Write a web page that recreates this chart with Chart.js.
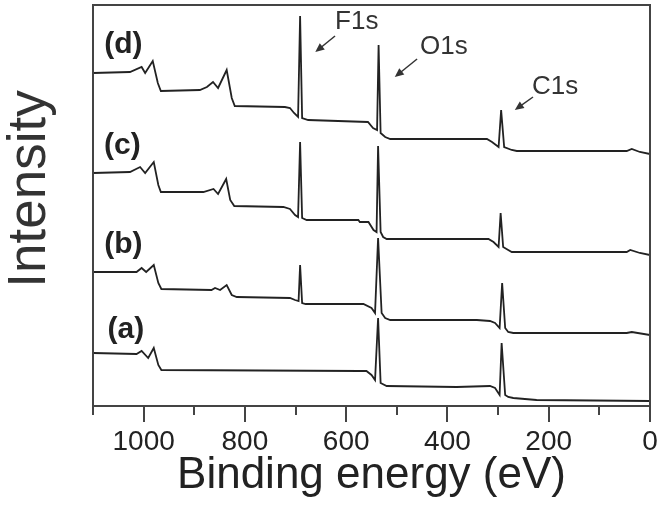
<!DOCTYPE html>
<html>
<head>
<meta charset="utf-8">
<script src="https://cdn.jsdelivr.net/npm/chart.js@4.4.0/dist/chart.umd.min.js"></script>
<style>
	html, body { margin: 0; padding: 0; background: #fff; }
	#wrap { width: 671px; height: 513px; }
</style>
</head>
<body>
<div id="wrap"><canvas id="xps"></canvas></div>
<script>
// binding energy (eV) and intensity (a.u., offset per spectrum)
let energyA = [1100,1014,1004,991,980,971,965,573,560,550,543,537,532,520,382,316,306,297,293,286,280,270,224,0]
let intensityA = [53,52,55,48,58,41,36,35,35,31,26,88,23,20,19,20,18,11,63,11,9,8,6,5]

let energyB = [1100,1014,1004,995,980,971,965,866,859,849,836,826,816,711,701,694,691,687,680,566,550,543,537,530,523,513,342,316,306,297,292,286,280,270,46,36,0]
let intensityB = [134,134,138,134,141,123,117,116,118,116,121,111,109,108,106,105,141,103,102,102,98,93,168,93,88,86,86,85,83,78,123,78,74,73,73,74,71]

let energyC = [1100,1027,1007,997,980,971,966,882,862,853,837,829,821,724,711,701,695,691,687,678,576,573,556,546,540,537,532,527,520,319,309,299,295,290,280,273,46,39,20,0]
let intensityC = [233,234,239,233,244,221,214,214,217,212,227,206,200,199,197,191,189,264,188,186,186,184,184,176,174,260,174,169,167,167,164,159,193,159,156,154,154,156,153,151]

let energyD = [1100,1027,1004,997,982,972,966,889,875,863,853,836,826,820,721,711,703,695,691,687,675,557,547,539,536,532,523,513,322,312,299,294,288,273,263,46,36,20,0]
let intensityD = [333,334,339,333,345,323,315,316,319,324,318,336,308,300,299,298,293,289,390,288,286,284,278,276,361,273,269,267,267,264,259,296,259,256,255,255,257,254,252]

let seriesNames = ['(a)','(b)','(c)','(d)']
let majorTicks = [0,200,400,600,800,1000]

let ink = '#222'
let font = 'Liberation Sans, Arial, Helvetica, sans-serif'

function points(xs, ys) {
	return xs.map((x, i) => ({x: x, y: ys[i]}))
}

function make_dataset(name, xs, ys) {
	return {
		label: name,
		data: points(xs, ys),
		showLine: true,
		borderColor: ink,
		borderWidth: 1.8,
		pointRadius: 0,
		tension: 0,
		fill: false
	}
}

function arrow(ctx, x1, y1, x2, y2) {
	let ang = Math.atan2(y2 - y1, x2 - x1)
	ctx.beginPath()
	ctx.moveTo(x1, y1)
	ctx.lineTo(x2 - 4 * Math.cos(ang), y2 - 4 * Math.sin(ang))
	ctx.stroke()
	ctx.beginPath()
	ctx.moveTo(x2, y2)
	ctx.lineTo(x2 - 9 * Math.cos(ang) + 4 * Math.sin(ang), y2 - 9 * Math.sin(ang) - 4 * Math.cos(ang))
	ctx.lineTo(x2 - 9 * Math.cos(ang) - 4 * Math.sin(ang), y2 - 9 * Math.sin(ang) + 4 * Math.cos(ang))
	ctx.closePath()
	ctx.fill()
}

// frame, y title, spectrum labels and peak annotations
let decorations = {
	id: 'decorations',
	afterDraw(chart) {
		let ctx = chart.ctx
		let a = chart.chartArea
		let xs = chart.scales.x
		let ys = chart.scales.y
		ctx.save()
		ctx.strokeStyle = '#444'
		ctx.lineWidth = 2
		ctx.strokeRect(a.left, a.top, a.right - a.left, a.bottom - a.top)

		ctx.fillStyle = '#333'
		ctx.font = '53px ' + font
		ctx.textAlign = 'center'
		ctx.textBaseline = 'middle'
		ctx.translate(30, 189)
		ctx.rotate(-Math.PI / 2)
		ctx.fillText('Intensity', 0, 0)
		ctx.setTransform(1, 0, 0, 1, 0, 0)

		// series labels, placed in data units
		let labelAt = [[1035, 76], [1040, 161], [1042, 260], [1040, 361]]
		ctx.font = 'bold 30px ' + font
		ctx.fillStyle = ink
		seriesNames.forEach((n, i) => {
			ctx.fillText(n, xs.getPixelForValue(labelAt[i][0]), ys.getPixelForValue(labelAt[i][1]))
		})

		let peaks = [
			{text: 'F1s', at: [622, 384], from: [622, 370], to: [661, 354]},
			{text: 'O1s', at: [454, 359], from: [460, 347], to: [504, 329]},
			{text: 'C1s', at: [233, 319], from: [231, 309], to: [267, 296]}
		]
		ctx.font = '26px ' + font
		ctx.textAlign = 'left'
		ctx.fillStyle = '#333'
		ctx.strokeStyle = '#333'
		ctx.lineWidth = 1.5
		for (let p of peaks) {
			ctx.fillText(p.text, xs.getPixelForValue(p.at[0]), ys.getPixelForValue(p.at[1]))
			arrow(ctx, xs.getPixelForValue(p.from[0]), ys.getPixelForValue(p.from[1]),
				xs.getPixelForValue(p.to[0]), ys.getPixelForValue(p.to[1]))
		}
		ctx.restore()
	}
}

window.onload = function() {
	new Chart('xps', {
		type: 'scatter',
		data: {
			datasets: [
				make_dataset('a', energyA, intensityA),
				make_dataset('b', energyB, intensityB),
				make_dataset('c', energyC, intensityC),
				make_dataset('d', energyD, intensityD)
			]
		},
		options: {
			responsive: true,
			maintainAspectRatio: false,
			animation: false,
			layout: { padding: { top: 5, right: 21, left: 0, bottom: 0 } },
			plugins: { legend: { display: false }, tooltip: { enabled: false } },
			scales: {
				x: {
					type: 'linear',
					position: 'bottom',
					weight: 1,
					min: 0,
					max: 1100,
					reverse: true,
					afterFit: s => { s.height = 107 },
					afterBuildTicks: s => { s.ticks = majorTicks.map(v => ({value: v})) },
					ticks: {
						padding: 3,
						color: ink,
						font: { family: font, size: 28 },
						callback: v => String(v)
					},
					grid: { drawOnChartArea: false, drawTicks: true, tickLength: 16, color: '#444', lineWidth: 2 },
					border: { display: false },
					title: {
						display: true,
						text: 'Binding energy (eV)',
						color: ink,
						font: { family: font, size: 44 },
						padding: { top: 0, bottom: 11 }
					}
				},
				xMinor: {
					type: 'linear',
					position: 'bottom',
					weight: 0,
					min: 0,
					max: 1100,
					reverse: true,
					afterFit: s => { s.height = 0 },
					ticks: { display: false, stepSize: 100 },
					grid: { drawOnChartArea: false, drawTicks: true, tickLength: 9, color: '#444', lineWidth: 2 },
					border: { display: false }
				},
				y: {
					type: 'linear',
					position: 'left',
					min: 0,
					max: 401,
					afterFit: s => { s.width = 93 },
					ticks: { display: false },
					grid: { display: false },
					border: { display: false }
				}
			}
		},
		plugins: [decorations]
	})
}
</script>
</body>
</html>
